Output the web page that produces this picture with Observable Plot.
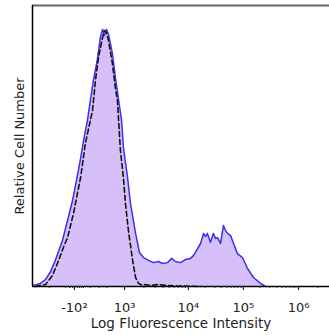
<!DOCTYPE html>
<html>
<head>
<meta charset="utf-8">
<script src="https://cdn.jsdelivr.net/npm/d3@7"></script>
<script src="https://cdn.jsdelivr.net/npm/@observablehq/plot@0.6"></script>
<style>
  html, body { margin: 0; padding: 0; background: #fff; }
  #chart svg { display: block; }
</style>
</head>
<body>
<div id="chart"></div>
<script>
// Stained sample histogram (channel, relative count)
const stainedX = [3,27,44,61,77,101,118,135,148,162,172,185,195,205,219,229,236,242,249,256,269,279,290,300,306,320,330,347,354,360,374,391,407,424,438,455,468,481,498,515,532,542,552,566,576,582,589,599,609,616,623,633,643,650,657,667,677,690,707,724,744,768,785];
const stainedY = [0.4,1.1,2.5,5.3,9.3,16.4,23.5,30.6,37.7,45.6,52.0,59.1,66.2,73.3,81.1,89.0,91.5,89.3,91.5,89.7,82.9,74.4,66.2,59.1,49.5,38.8,29.5,18.9,15.3,12.1,10.3,9.3,8.5,8.9,8.2,8.5,10.0,8.9,8.5,9.6,10.0,11.0,12.8,15.3,18.9,17.8,18.9,15.7,18.9,17.1,17.4,15.3,21.7,19.9,18.9,18.1,15.3,11.7,10.3,6.4,3.2,1.1,0];

// Isotype control histogram (dashed)
const isoX = [10,44,67,77,88,104,118,138,162,178,202,212,222,236,242,249,256,269,279,286,290,296,306,313,323,330,337,347,357,370,380,397,424,448,481,566];
const isoY = [0,0.7,3.9,6.4,9.3,13.9,17.4,26.0,38.8,50.9,62.6,73.3,81.5,88.6,91.1,90.4,87.5,79.4,70.8,66.2,59.1,48.4,38.8,29.5,19.9,14.6,9.3,3.2,1.1,0.4,0.7,0.4,0.7,0.4,0.2,0];

// Axis ticks (channel positions) and labels
const majorTicks = [141, 310, 525, 710, 896];
const majorLabels = ["-10²", "10³", "10⁴", "10⁵", "10⁶"];
const minorTicks = [57, 111, 125, 135, 150, 158, 165, 172, 195, 225, 250, 375, 413, 439, 460, 477, 492, 504, 515, 581, 613, 636, 654, 669, 681, 692, 702, 766, 799, 822, 840, 855, 867, 878, 887, 960];

const xLabel = "Log Fluorescence Intensity";
const yLabel = "Relative Cell Number";

const stained = stainedX.map((x, i) => ({x, y: stainedY[i]}));
const iso = isoX.map((x, i) => ({x, y: isoY[i]}));

const chart = Plot.plot({
  width: 329,
  height: 335,
  marginLeft: 32,
  marginRight: 0,
  marginTop: 5,
  marginBottom: 49,
  style: {fontFamily: "DejaVu Sans", background: "#fff"},
  x: {domain: [0, 1000]},
  y: {domain: [0, 100], axis: null},
  marks: [
    Plot.areaY(stained, {x: "x", y: "y", fill: "#d7c0fa"}),
    Plot.line(stained, {x: "x", y: "y", stroke: "#3b2ff2", strokeWidth: 1.5}),
    Plot.line(iso, {x: "x", y: "y", stroke: "#111", strokeWidth: 1.6, strokeDasharray: "5,3"}),
    Plot.ruleY([100], {stroke: "#666", strokeWidth: 2}),
    Plot.ruleY([0], {stroke: "#000", strokeWidth: 1.5}),
    Plot.ruleX([0], {stroke: "#000", strokeWidth: 1.5}),
    Plot.axisX({ticks: minorTicks, tickSize: 2, tickFormat: () => "", label: null, stroke: "#333"}),
    Plot.axisX({ticks: majorTicks, tickSize: 4, tickPadding: 12, tickFormat: (d, i) => majorLabels[i], fontSize: 13, label: null, fill: "#222"}),
    Plot.text([xLabel], {frameAnchor: "bottom", lineAnchor: "middle", dy: 37, fontSize: 13.5, fill: "#222"}),
    Plot.text([yLabel], {frameAnchor: "left", textAnchor: "middle", lineAnchor: "middle", dx: -13, rotate: -90, fontSize: 13, fill: "#222"})
  ]
});
document.getElementById("chart").append(chart);
</script>
</body>
</html>
